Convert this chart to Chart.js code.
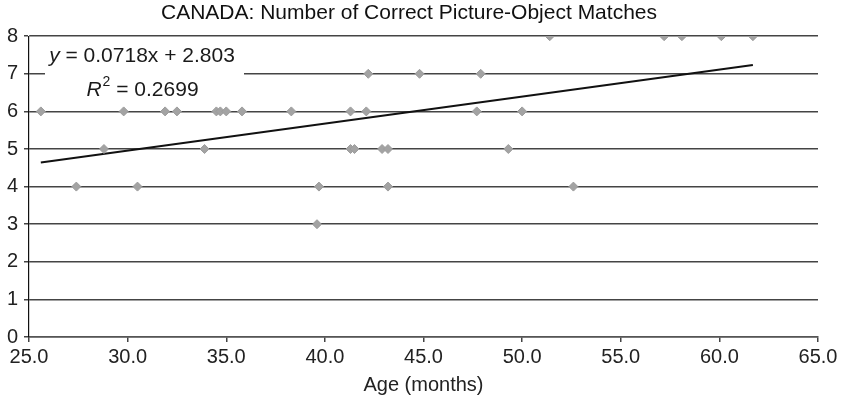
<!DOCTYPE html>
<html>
<head>
<meta charset="utf-8">
<script src="https://cdn.jsdelivr.net/npm/chart.js@4"></script>
<style>
  html, body { margin: 0; padding: 0; background: #fff; }
  #wrap { width: 842px; height: 405px; }
</style>
</head>
<body>
<div id="wrap"><canvas id="chartCanada" width="842" height="405"></canvas></div>
<script>
// ages (months) and number of correct matches, one entry per child
const ages = [
    25.6, 29.8, 31.9, 32.5, 34.5, 34.7, 35.0, 35.8, 38.3, 41.3, 42.1, 47.7, 50.0,
    42.2, 44.8, 47.9,
    51.4, 57.2, 58.1, 60.1, 61.7,
    28.8, 33.9, 41.3, 41.5, 42.9, 43.2, 49.3,
    27.4, 30.5, 39.7, 43.2, 52.6,
    39.6
];
const scores = [
    6, 6, 6, 6, 6, 6, 6, 6, 6, 6, 6, 6, 6,
    7, 7, 7,
    8, 8, 8, 8, 8,
    5, 5, 5, 5, 5, 5, 5,
    4, 4, 4, 4, 4,
    3
];
// trendline as printed on the chart
const slope = 0.0718;
const intercept = 2.803;
const rSquared = '0.2699';

const xTicks = [25, 30, 35, 40, 45, 50, 55, 60, 65];
const yTicks = [0, 1, 2, 3, 4, 5, 6, 7, 8];

const FONT = "'Liberation Sans', Arial, Helvetica, sans-serif";

document.addEventListener('DOMContentLoaded', function() {
    const points = ages.map((a, i) => ({ x: a, y: scores[i] }));
    const xMin = Math.min(...ages);
    const xMax = Math.max(...ages);
    const trend = [
        { x: xMin, y: slope * xMin + intercept },
        { x: xMax, y: slope * xMax + intercept }
    ];

    // white label box with the regression equation
    const equationBox = {
        id: 'equationBox',
        afterDatasetsDraw(chart) {
            const ctx = chart.ctx;
            const area = chart.chartArea;
            const cx = area.left + 113;
            ctx.save();
            ctx.fillStyle = '#fff';
            ctx.fillRect(area.left + 16, area.top + 6, 199, 62);
            ctx.fillStyle = '#1a1a1a';
            ctx.textBaseline = 'middle';

            // line 1: y = 0.0718x + 2.803
            const it = 'italic 21px ' + FONT;
            const rg = '21px ' + FONT;
            const sup = '14px ' + FONT;
            const rest1 = ' = ' + slope + 'x + ' + intercept;
            ctx.font = it;
            const w1a = ctx.measureText('y').width;
            ctx.font = rg;
            const w1b = ctx.measureText(rest1).width;
            let x = cx - (w1a + w1b) / 2;
            const y1 = area.top + 20;
            ctx.font = it;
            ctx.fillText('y', x, y1);
            ctx.font = rg;
            ctx.fillText(rest1, x + w1a, y1);

            // line 2: R^2 = 0.2699
            const rest2 = ' = ' + rSquared;
            ctx.font = it;
            const w2a = ctx.measureText('R').width;
            ctx.font = sup;
            const w2b = ctx.measureText('2').width;
            ctx.font = rg;
            const w2c = ctx.measureText(rest2).width;
            x = cx - (w2a + w2b + w2c) / 2;
            const y2 = area.top + 54;
            ctx.font = it;
            ctx.fillText('R', x, y2);
            ctx.font = sup;
            ctx.fillText('2', x + w2a + 1, y2 - 8);
            ctx.font = rg;
            ctx.fillText(rest2, x + w2a + w2b + 1, y2);
            ctx.restore();
        }
    };

    const ctxCanada = document.getElementById('chartCanada').getContext('2d');
    new Chart(ctxCanada, {
        type: 'scatter',
        data: {
            datasets: [{
                label: 'Matches',
                data: points,
                pointStyle: 'rectRot',
                pointRadius: 4.5,
                backgroundColor: '#a3a3a3',
                borderColor: '#9c9c9c',
                borderWidth: 1
            }, {
                type: 'line',
                label: 'Linear trend',
                data: trend,
                borderColor: '#111111',
                borderWidth: 2,
                pointRadius: 0,
                fill: false
            }]
        },
        options: {
            responsive: false,
            animation: false,
            layout: { padding: { top: 0, right: 24, bottom: 0, left: 0 } },
            plugins: {
                legend: { display: false },
                tooltip: { enabled: false },
                title: {
                    display: true,
                    text: 'CANADA: Number of Correct Picture-Object Matches',
                    color: '#111',
                    font: { family: FONT, size: 21, weight: 'normal' },
                    padding: { top: 1, bottom: 10 }
                }
            },
            scales: {
                x: {
                    type: 'linear',
                    min: xTicks[0],
                    max: xTicks[xTicks.length - 1],
                    afterBuildTicks: s => { s.ticks = xTicks.map(v => ({ value: v })); },
                    afterFit: s => { s.height = 68; },
                    ticks: {
                        color: '#222',
                        font: { family: FONT, size: 20 },
                        padding: 3,
                        maxRotation: 0,
                        callback: v => Number(v).toFixed(1)
                    },
                    grid: { drawOnChartArea: false, drawTicks: true, tickLength: 5, color: '#444', lineWidth: 1.5 },
                    border: { color: '#555', width: 1.5 },
                    title: {
                        display: true,
                        text: 'Age (months)',
                        color: '#222',
                        font: { family: FONT, size: 20 },
                        padding: { top: 0, bottom: 8 }
                    }
                },
                y: {
                    min: yTicks[0],
                    max: yTicks[yTicks.length - 1],
                    afterBuildTicks: s => { s.ticks = yTicks.map(v => ({ value: v })); },
                    afterFit: s => { s.width = 29; },
                    ticks: {
                        color: '#222',
                        font: { family: FONT, size: 20 },
                        padding: 6
                    },
                    grid: { color: '#444', lineWidth: 1.5, tickLength: 5 },
                    border: { color: '#111', width: 1.2 }
                }
            }
        },
        plugins: [equationBox]
    });
});
</script>
</body>
</html>
